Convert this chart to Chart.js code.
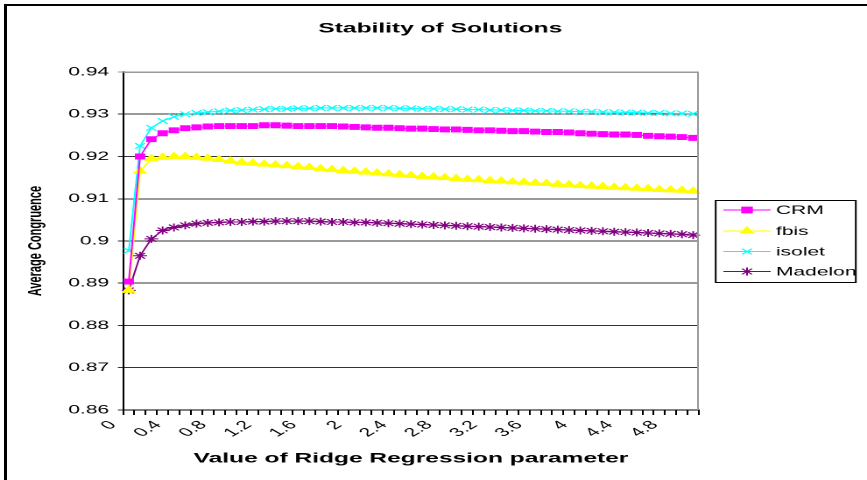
<!DOCTYPE html>
<html>
<head>
<meta charset="utf-8">
<title>Stability of Solutions</title>
<script src="https://cdn.jsdelivr.net/npm/chart.js@4.4.0/dist/chart.umd.min.js"></script>
<style>
  html, body { margin: 0; padding: 0; background: #fff; overflow: hidden; }
  #frame { position: absolute; left: 4px; top: 4px; width: 900px; height: 500px;
           border-top: 2px solid #000; border-left: 3px solid #000; }
  /* the source picture is stretched sideways, so the chart is drawn narrow and widened */
  #wrap { position: absolute; left: 0; top: 0; width: 495px; height: 480px;
          transform: scaleX(1.7515); transform-origin: 0 0; }
</style>
</head>
<body>
<div id="frame"></div>
<div id="wrap"><canvas id="line_chart"></canvas></div>
<script>
var lambdas = ['0','0.1','0.2','0.3','0.4','0.5','0.6','0.7','0.8','0.9',
               '1','1.1','1.2','1.3','1.4','1.5','1.6','1.7','1.8','1.9',
               '2','2.1','2.2','2.3','2.4','2.5','2.6','2.7','2.8','2.9',
               '3','3.1','3.2','3.3','3.4','3.5','3.6','3.7','3.8','3.9',
               '4','4.1','4.2','4.3','4.4','4.5','4.6','4.7','4.8','4.9','5'];
var tickLabels = ['0','0.4','0.8','1.2','1.6','2','2.4','2.8','3.2','3.6','4','4.4','4.8'];

var crm = [0.8904,0.9200,0.9241,0.9255,0.9262,0.9267,0.9269,0.9271,0.9272,0.9272,
           0.9272,0.9272,0.9274,0.9274,0.9273,0.9272,0.9272,0.9272,0.9272,0.9271,
           0.9270,0.9269,0.9268,0.9268,0.9267,0.9266,0.9266,0.9265,0.9264,0.9264,
           0.9263,0.9262,0.9262,0.9261,0.9260,0.9260,0.9259,0.9258,0.9258,0.9257,
           0.9255,0.9254,0.9253,0.9252,0.9252,0.9251,0.9249,0.9248,0.9247,0.9246,0.9244];
var fbis = [0.8883,0.9165,0.9195,0.9198,0.9200,0.9200,0.9198,0.9196,0.9193,0.9189,
            0.9186,0.9184,0.9182,0.9180,0.9178,0.9176,0.9174,0.9171,0.9169,0.9167,
            0.9165,0.9163,0.9161,0.9159,0.9157,0.9155,0.9153,0.9152,0.9150,0.9148,
            0.9146,0.9145,0.9143,0.9142,0.9140,0.9139,0.9137,0.9136,0.9134,0.9133,
            0.9131,0.9130,0.9129,0.9127,0.9126,0.9125,0.9124,0.9122,0.9121,0.9120,0.9118];
var isolet = [0.8977,0.9225,0.9268,0.9284,0.9294,0.9300,0.9303,0.9305,0.9307,0.9309,
              0.9310,0.9311,0.9312,0.9313,0.9313,0.9314,0.9314,0.9315,0.9315,0.9315,
              0.9315,0.9315,0.9315,0.9315,0.9314,0.9314,0.9313,0.9313,0.9312,0.9312,
              0.9311,0.9311,0.9310,0.9310,0.9309,0.9309,0.9308,0.9308,0.9307,0.9307,
              0.9306,0.9306,0.9305,0.9305,0.9304,0.9304,0.9303,0.9303,0.9302,0.9302,0.9301];
var madelon = [0.8883,0.8965,0.9005,0.9025,0.9032,0.9037,0.9041,0.9043,0.9044,0.9045,
               0.9045,0.9046,0.9046,0.9047,0.9047,0.9047,0.9047,0.9046,0.9045,0.9045,
               0.9044,0.9044,0.9043,0.9042,0.9041,0.9040,0.9039,0.9038,0.9037,0.9036,
               0.9035,0.9034,0.9033,0.9032,0.9031,0.9030,0.9029,0.9028,0.9027,0.9026,
               0.9025,0.9024,0.9023,0.9022,0.9021,0.9020,0.9019,0.9018,0.9017,0.9016,0.9014];

var FONT = "Arial, 'Liberation Sans', sans-serif";

function series(label, data, color, style, r) {
    return {
        label: label,
        data: data,
        borderColor: color,
        backgroundColor: color,
        pointBorderColor: color,
        pointBackgroundColor: color,
        pointStyle: style,
        pointRadius: r,
        pointBorderWidth: 1,
        borderWidth: 1,
        tension: 0
    };
}

// title, plot frame and boxed legend like the old spreadsheet chart
var extras = {
    id: 'extras',
    afterDraw: function (chart) {
        var ctx = chart.ctx, a = chart.chartArea;
        ctx.save();
        ctx.strokeStyle = '#999';
        ctx.lineWidth = 1;
        ctx.beginPath();
        ctx.moveTo(a.left, a.top + 0.5);
        ctx.lineTo(a.right - 0.5, a.top + 0.5);
        ctx.lineTo(a.right - 0.5, a.bottom);
        ctx.stroke();

        ctx.fillStyle = '#000';
        ctx.font = 'bold 14px ' + FONT;
        ctx.textAlign = 'center';
        ctx.textBaseline = 'middle';
        ctx.fillText('Stability of Solutions', 251.4, 28.5);

        var bx = 408.6, by = 200, bw = 80, bh = 82;
        ctx.fillStyle = '#fff';
        ctx.fillRect(bx, by, bw, bh);
        ctx.strokeStyle = '#000';
        ctx.strokeRect(bx, by + 0.5, bw, bh);
        var rows = [210, 231, 251.5, 271.5];
        ctx.font = '12px ' + FONT;
        ctx.textAlign = 'left';
        chart.data.datasets.forEach(function (ds, i) {
            var y = rows[i];
            ctx.strokeStyle = ds.borderColor;
            ctx.fillStyle = ds.borderColor;
            ctx.lineWidth = 1;
            ctx.beginPath();
            ctx.moveTo(413, y);
            ctx.lineTo(440, y);
            ctx.stroke();
            Chart.helpers.drawPoint(ctx, {pointStyle: ds.pointStyle, radius: 4, rotation: 0, borderWidth: 1}, 426.5, y);
            ctx.fillStyle = '#000';
            ctx.fillText(ds.label, 443, y + 0.5);
        });
        ctx.restore();
    }
};

new Chart(document.getElementById('line_chart').getContext('2d'), {
    type: 'line',
    data: {
        labels: lambdas,
        datasets: [
            series('CRM', crm, '#ff00ff', 'rect', 3.5),
            series('fbis', fbis, '#ffff00', 'triangle', 4),
            series('isolet', isolet, '#00ffff', 'crossRot', 4),
            series('Madelon', madelon, '#800080', 'star', 4)
        ]
    },
    options: {
        responsive: true,
        maintainAspectRatio: false,
        animation: false,
        devicePixelRatio: 2,
        layout: { padding: { top: 72, right: 96, left: 0, bottom: 0 } },
        plugins: { legend: { display: false }, title: { display: false }, tooltip: { enabled: false } },
        scales: {
            x: {
                offset: true,
                afterFit: function (s) { s.height = 70; },
                grid: { offset: true, drawOnChartArea: false, tickLength: 5, color: '#000' },
                border: { display: true, color: '#000', width: 1 },
                ticks: {
                    autoSkip: false, minRotation: 45, maxRotation: 45,
                    labelOffset: -9, padding: 3,
                    color: '#000', font: { family: FONT, size: 12 },
                    callback: function (v) {
                        var l = this.getLabelForValue(v);
                        return tickLabels.indexOf(l) > -1 ? l : '';
                    }
                },
                title: {
                    display: true, text: 'Value of Ridge Regression parameter', color: '#000',
                    font: { family: FONT, size: 14, weight: 'bold' }, padding: { top: 0, bottom: 13 }
                }
            },
            y: {
                min: 0.86, max: 0.94,
                afterFit: function (s) { s.width = 70.3; },
                grid: {
                    tickLength: 3,
                    color: function (c) { return c.tick && Math.abs(c.tick.value - 0.94) < 1e-6 ? '#999' : '#333'; }
                },
                border: { display: true, color: '#000', width: 1 },
                ticks: {
                    stepSize: 0.01, padding: 5, color: '#000',
                    font: { family: FONT, size: 12 },
                    callback: function (v) { return String(+v.toFixed(2)); }
                },
                title: {
                    display: true, text: 'Average Congruence', color: '#000',
                    font: { family: FONT, size: 11, weight: 'bold' }, padding: { top: 14, bottom: 0 }
                }
            }
        }
    },
    plugins: [extras]
});
</script>
</body>
</html>
